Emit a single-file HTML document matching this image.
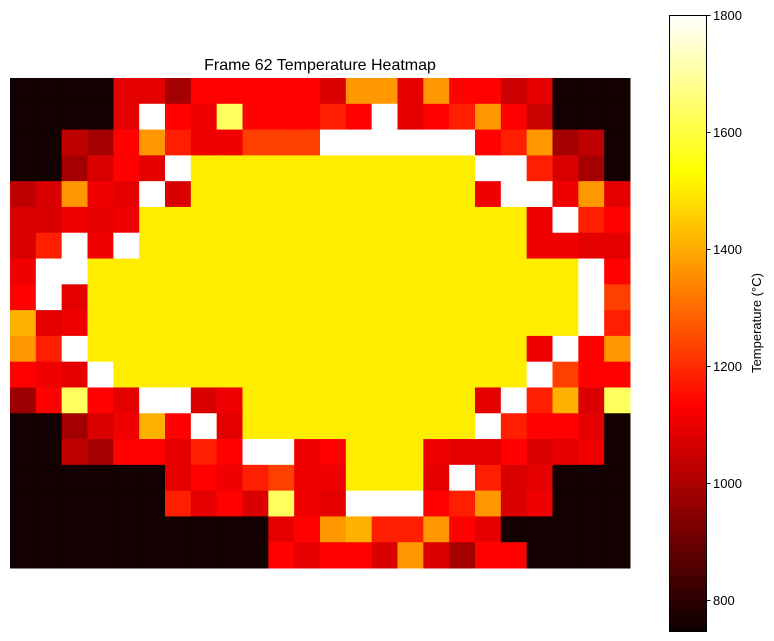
<!DOCTYPE html>
<html><head><meta charset="utf-8"><style>
html,body{margin:0;padding:0;background:#fff;}
svg{display:block;font-family:"Liberation Sans","DejaVu Sans",sans-serif;}
</style></head><body>
<svg id="chart" width="774" height="641" viewBox="0 0 774 641" xmlns="http://www.w3.org/2000/svg">
<text x="320" y="70" text-anchor="middle" font-size="16">Frame 62 Temperature Heatmap</text>
<g id="cells"></g>
<defs><linearGradient id="hotgrad" x1="0" y1="1" x2="0" y2="0">
<stop offset="0" stop-color="#0b0000"/><stop offset="0.365" stop-color="#ff0000"/><stop offset="0.746" stop-color="#ffff00"/><stop offset="1" stop-color="#ffffff"/>
</linearGradient></defs>
<rect x="669.5" y="15.5" width="37" height="616" fill="url(#hotgrad)" stroke="#000" stroke-width="1"/>
<g id="cbticks"></g>
<text transform="translate(761,323) rotate(-90)" text-anchor="middle" font-size="13">Temperature (°C)</text>
</svg>
<script>
const vmin = 747, vmax = 1800;
const codeValues = {K:760,A:990,B:1030,C:1050,E:1075,F:1090,G:1108,R:1135,S:1180,T:1230,O:1370,P:1410,Y:1505,L:1630,W:1800,D:975};
const gridRows = [
"KKKKFFARRRRREOOFORRCFKKK",
"KKKKFWRGLRRRSRWFRSORCKKK",
"KKBAROSGGTTTWWWWWWRSOABK",
"KKAERFWYYYYYYYYYYYWWSEAK",
"BEOGFWEYYYYYYYYYYYGWWGOF",
"EEGFGYYYYYYYYYYYYYYYGWSR",
"ESWGWYYYYYYYYYYYYYYYGGFF",
"GWWYYYYYYYYYYYYYYYYYYYWR",
"RWFYYYYYYYYYYYYYYYYYYYWT",
"PFGYYYYYYYYYYYYYYYYYYYWS",
"OSWYYYYYYYYYYYYYYYYYGWRO",
"RGFWYYYYYYYYYYYYYYYYWTRR",
"DRLRFWWEGYYYYYYYYYFWSPEL",
"KKAEGPRWFYYYYYYYYYWSRRFK",
"KKBARRFSRWWGRYYYGFFREFGK",
"KKKKKKFRGSTGGYYYFWSEFKKK",
"KKKKKKSFRELGFWWWRSOEGKKK",
"KKKKKKKKKKFROPSSORFKKKKK",
"KKKKKKKKKKRFRREOEARRKKKK"
];
const tickValues = [800,1000,1200,1400,1600,1800];
const tickLabels = ["800","1000","1200","1400","1600","1800"];

const NS = "http://www.w3.org/2000/svg";
const plotX = 10, plotY = 78, plotW = 620, plotH = 490;
const nRows = gridRows.length, nCols = 24;
const cw = plotW / nCols, ch = plotH / nRows;
function hot(v){
  let t = Math.max(0, Math.min(1, (v - vmin) / (vmax - vmin)));
  let r = Math.min(1, 0.0416 + t / 0.365 * (1 - 0.0416));
  let g = Math.max(0, Math.min(1, (t - 0.365) / 0.381));
  let b = Math.max(0, Math.min(1, (t - 0.746) / 0.254));
  return "rgb(" + Math.round(r*255) + "," + Math.round(g*255) + "," + Math.round(b*255) + ")";
}
function xPos(c){ return plotX + c * cw; }
function yPos(r){ return plotY + r * ch; }
const cbTop = 15.5, cbBot = 631.5;
function cbY(v){ return cbBot - (v - vmin) / (vmax - vmin) * (cbBot - cbTop); }

const cells = document.getElementById("cells");
for (let r = 0; r < nRows; r++) {
  for (let c = 0; c < nCols; c++) {
    const v = codeValues[gridRows[r][c]];
    const rect = document.createElementNS(NS, "rect");
    rect.setAttribute("x", xPos(c)); rect.setAttribute("y", yPos(r));
    rect.setAttribute("width", cw + 0.5); rect.setAttribute("height", ch + 0.5);
    rect.setAttribute("fill", hot(v));
    
    
    cells.appendChild(rect);
  }
}
const tg = document.getElementById("cbticks");
tickValues.forEach((v, i) => {
  const y = cbY(v);
  const ln = document.createElementNS(NS, "line");
  ln.setAttribute("x1", 706.5); ln.setAttribute("x2", 710.5);
  ln.setAttribute("y1", y); ln.setAttribute("y2", y);
  ln.setAttribute("stroke", "#000");
  
  
  tg.appendChild(ln);
  const tx = document.createElementNS(NS, "text");
  tx.setAttribute("x", 713); tx.setAttribute("y", y + 4.5);
  tx.setAttribute("font-size", "13");
  tx.textContent = tickLabels[i];
  
  
  tg.appendChild(tx);
});
</script>
</body></html>
